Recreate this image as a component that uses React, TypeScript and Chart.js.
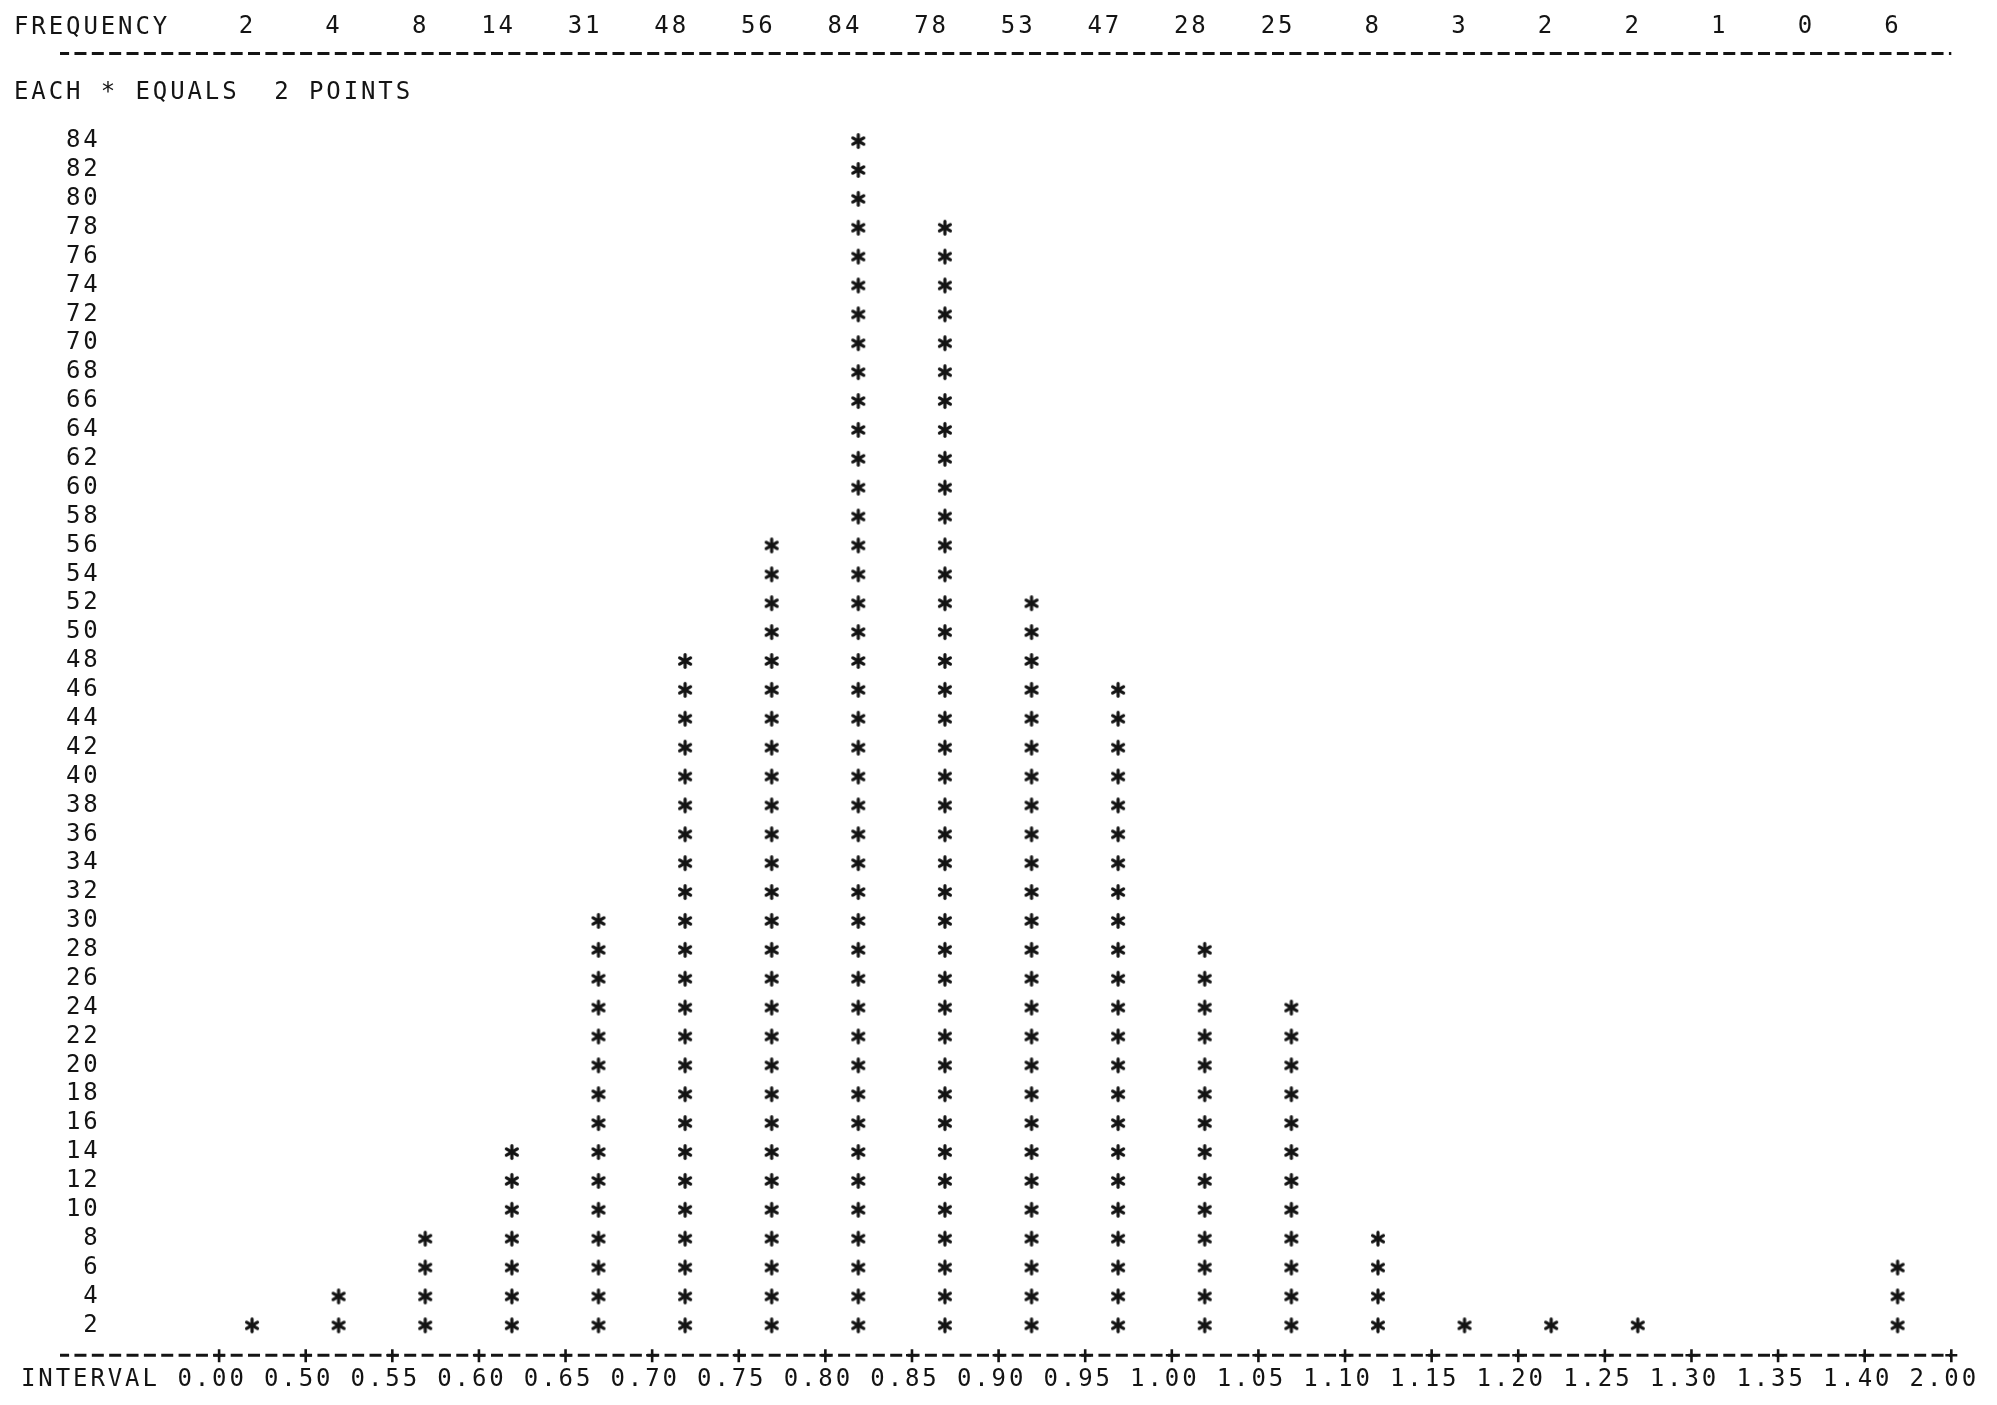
import React, { useEffect, useRef } from "react";
import { Chart, registerables } from "chart.js";

Chart.register(...registerables);

// ---- data ----
const POINTS_PER_STAR = 2;
const frequencies = [2, 4, 8, 14, 31, 48, 56, 84, 78, 53, 47, 28, 25, 8, 3, 2, 2, 1, 0, 6];
const intervalLabels = [
  "0.00", "0.50", "0.55", "0.60", "0.65", "0.70", "0.75", "0.80", "0.85", "0.90", "0.95",
  "1.00", "1.05", "1.10", "1.15", "1.20", "1.25", "1.30", "1.35", "1.40", "2.00",
];
const yTickLabels = [
  2, 4, 6, 8, 10, 12, 14, 16, 18, 20, 22, 24, 26, 28, 30, 32, 34, 36, 38, 40, 42,
  44, 46, 48, 50, 52, 54, 56, 58, 60, 62, 64, 66, 68, 70, 72, 74, 76, 78, 80, 82, 84,
];
const frequencyHeading = "FREQUENCY";
const intervalHeading = "INTERVAL";
const legendText = `EACH * EQUALS  ${POINTS_PER_STAR} POINTS`;

// ---- presentation ----
const INK = "#141414";
const FONT_FAMILY = "'DejaVu Sans Mono', monospace";
const FONT_SIZE = 24;
const LETTER_SPACING = "2.9px";
const COLUMN_POS = 0.38; // where the printer column sits inside each interval
const X_MIN = -1.837;
const X_MAX = 20;
const Y_MIN = 0;
const Y_MAX = 90;
const DASH = [12, 5.356];
const DASH_OFFSET = 2.9;

function makeAsterisk(): HTMLCanvasElement {
  const c = document.createElement("canvas");
  c.width = 18;
  c.height = 18;
  const g = c.getContext("2d")!;
  g.strokeStyle = INK;
  g.lineWidth = 3.2;
  g.lineCap = "round";
  const r = 6.3;
  [90, 30, 150].forEach((deg) => {
    const a = (deg * Math.PI) / 180;
    g.beginPath();
    g.moveTo(9 - r * Math.cos(a), 9 - r * Math.sin(a));
    g.lineTo(9 + r * Math.cos(a), 9 + r * Math.sin(a));
    g.stroke();
  });
  return c;
}

export default function App() {
  const ref = useRef<HTMLCanvasElement | null>(null);

  useEffect(() => {
    if (!ref.current) return;
    const font = { family: FONT_FAMILY, size: FONT_SIZE };

    const starPoints = frequencies.flatMap((f, i) =>
      Array.from({ length: Math.floor(f / POINTS_PER_STAR) }, (_, k) => ({
        x: i + COLUMN_POS,
        y: (k + 1) * POINTS_PER_STAR,
      }))
    );

    const printerPlugin = {
      id: "printer",
      beforeUpdate(chart: any) {
        chart.ctx.letterSpacing = LETTER_SPACING;
      },
      beforeDraw(chart: any) {
        chart.ctx.letterSpacing = LETTER_SPACING;
      },
      afterDraw(chart: any) {
        const { ctx, chartArea, scales } = chart;
        const xs = scales.x;
        const xt = scales.xTop;
        ctx.save();
        // dashed printer rules along the two horizontal axes
        ctx.strokeStyle = INK;
        ctx.lineWidth = 3;
        ctx.setLineDash(DASH);
        ctx.lineDashOffset = DASH_OFFSET;
        [xs.top + 1, xt.bottom - 1].forEach((py: number) => {
          ctx.beginPath();
          ctx.moveTo(chartArea.left, py);
          ctx.lineTo(chartArea.right, py);
          ctx.stroke();
        });
        ctx.setLineDash([]);
        // "+" marks at interval boundaries
        ctx.lineWidth = 2.6;
        intervalLabels.forEach((_, k) => {
          const px = xs.getPixelForValue(k);
          const py = xs.top + 1;
          ctx.beginPath();
          ctx.moveTo(px, py - 6);
          ctx.lineTo(px, py + 7);
          ctx.moveTo(px - 6, py);
          ctx.lineTo(px + 6, py);
          ctx.stroke();
        });
        // headings
        ctx.letterSpacing = LETTER_SPACING;
        ctx.font = `${FONT_SIZE}px ${FONT_FAMILY}`;
        ctx.fillStyle = INK;
        ctx.textBaseline = "middle";
        ctx.textAlign = "left";
        ctx.fillText(frequencyHeading, chartArea.left - 46, chartArea.top - 27);
        ctx.fillText(legendText, chartArea.left - 46, chartArea.top + 38);
        ctx.fillText(intervalHeading, chartArea.left - 39, chartArea.bottom + 26);
        ctx.restore();
      },
    };

    const chart = new Chart(ref.current, {
      type: "scatter",
      data: {
        datasets: [
          {
            data: starPoints,
            pointStyle: makeAsterisk() as any,
            pointRadius: 7,
            showLine: false,
            xAxisID: "x",
            yAxisID: "y",
          },
        ],
      },
      options: {
        animation: false,
        responsive: false,
        devicePixelRatio: 1,
        events: [],
        layout: { padding: { left: 48, right: 44, top: 0, bottom: 0 } },
        plugins: { legend: { display: false }, tooltip: { enabled: false }, title: { display: false } },
        scales: {
          x: {
            type: "linear",
            position: "bottom",
            min: X_MIN,
            max: X_MAX,
            grid: { display: false, drawTicks: false },
            border: { display: false },
            afterBuildTicks: (s: any) => {
              s.ticks = intervalLabels.map((_, k) => ({ value: k }));
            },
            ticks: {
              autoSkip: false,
              maxRotation: 0,
              minRotation: 0,
              padding: 11,
              labelOffset: -7,
              font,
              color: INK,
              callback: (_v: any, i: number) => intervalLabels[i],
            },
          },
          xTop: {
            type: "linear",
            position: "top",
            min: X_MIN,
            max: X_MAX,
            grid: { display: false, drawTicks: false },
            border: { display: false },
            afterBuildTicks: (s: any) => {
              s.ticks = frequencies.map((_, i) => ({ value: i + COLUMN_POS }));
            },
            ticks: {
              autoSkip: false,
              maxRotation: 0,
              minRotation: 0,
              align: "end",
              padding: 12.8,
              labelOffset: 4,
              font,
              color: INK,
              callback: (_v: any, i: number) => String(frequencies[i]),
            },
          },
          y: {
            type: "linear",
            position: "left",
            min: Y_MIN,
            max: Y_MAX,
            grid: { display: false, drawTicks: false },
            border: { display: false },
            afterBuildTicks: (s: any) => {
              s.ticks = yTickLabels.map((v) => ({ value: v }));
            },
            ticks: {
              autoSkip: false,
              mirror: true,
              crossAlign: "far",
              padding: 6,
              font,
              color: INK,
              callback: (v: any) => String(v),
            },
          },
        },
      },
      plugins: [printerPlugin as any],
    });
    return () => chart.destroy();
  }, []);

  return (
    <div style={{ position: "absolute", left: 0, top: 0, width: 1997, height: 1405, background: "#fff" }}>
      <canvas ref={ref} width={1997} height={1405} style={{ display: "block" }} />
    </div>
  );
}
